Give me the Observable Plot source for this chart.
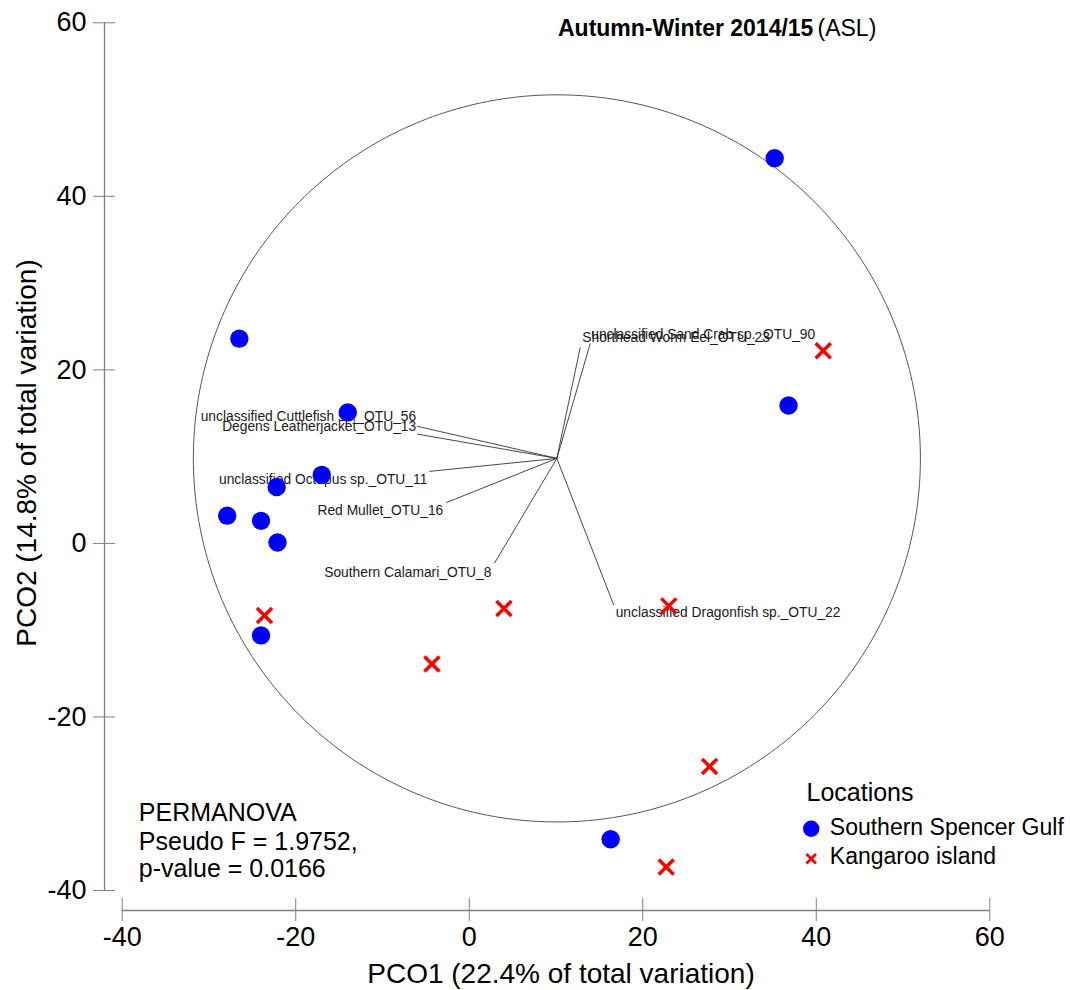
<!DOCTYPE html>
<html>
<head>
<meta charset="utf-8">
<script src="https://cdn.jsdelivr.net/npm/d3@7"></script>
<script src="https://cdn.jsdelivr.net/npm/@observablehq/plot@0.6"></script>
<style>
  html, body { margin: 0; padding: 0; background: #fff; }
  #chart { width: 1070px; height: 990px; }
</style>
</head>
<body>
<div id="chart"></div>
<script>
// ---- data ----
const locations = ["Southern Spencer Gulf", "Kangaroo island"];

// PCO scores per sample
const spencerPCO1 = [-26.5, -14.0, -17.0, -22.2, -27.9, -24.0, -22.1, -24.0, 35.2, 36.8, 16.3];
const spencerPCO2 = [23.6, 15.1, 7.9, 6.5, 3.2, 2.6, 0.1, -10.6, 44.4, 15.9, -34.1];
const kangarooPCO1 = [-23.6, 4.0, -4.3, 23.0, 40.8, 27.7, 22.7];
const kangarooPCO2 = [-8.3, -7.5, -13.9, -7.2, 22.2, -25.7, -37.3];

// OTU correlation vectors (tips), drawn from a common origin
const otuLabels = [
  "unclassified Cuttlefish sp._OTU_56",
  "Degens Leatherjacket_OTU_13",
  "unclassified Octopus sp._OTU_11",
  "Red Mullet_OTU_16",
  "Southern Calamari_OTU_8",
  "unclassified Sand Crab sp._OTU_90",
  "Shorthead Worm Eel_OTU_23",
  "unclassified Dragonfish sp._OTU_22"
];
const otuPCO1 = [-6.0, -6.0, -4.6, -2.65, 2.9, 13.95, 12.8, 16.65];
const otuPCO2 = [13.5, 12.6, 8.3, 4.7, -2.3, 23.05, 22.6, -7.1];
const vectorOrigin = [10.1, 9.8];
const circleRadius = 41.9;

const xTicks = [-40, -20, 0, 20, 40, 60];
const yTicks = [-40, -20, 0, 20, 40, 60];
const xTitle = "PCO1 (22.4% of total variation)";
const yTitle = "PCO2 (14.8% of total variation)";
const titleBold = "Autumn-Winter 2014/15";
const titleRest = "(ASL)";
const legendTitle = "Locations";
const statsLines = ["PERMANOVA", "Pseudo F = 1.9752,", "p-value = 0.0166"];

// ---- layout ----
const W = 1070, H = 990;
const ML = 121.7, MR = 80.7, MT = 22.3, MB = 100;
// place a free-standing mark at an absolute pixel position within the svg
const at = (px, py) => ({frameAnchor: "top-left", dx: px - ML, dy: py - MT});

// label placement for each vector tip
const labelPlace = [
  {anchor: "end", dx: -1, dy: -10},
  {anchor: "end", dx: -1, dy: -8},
  {anchor: "end", dx: -2, dy: 8},
  {anchor: "end", dx: -3, dy: 8},
  {anchor: "end", dx: -3, dy: 9},
  {anchor: "start", dx: 1, dy: -9},
  {anchor: "start", dx: 2, dy: -10},
  {anchor: "start", dx: 2, dy: 8}
];

const spencer = spencerPCO1.map((x, i) => ({x, y: spencerPCO2[i]}));
const kangaroo = kangarooPCO1.map((x, i) => ({x, y: kangarooPCO2[i]}));
const otus = otuLabels.map((name, i) => ({name, x: otuPCO1[i], y: otuPCO2[i]}));

// correlation circle outline
const circlePts = d3.range(0, 360, 1).map(a => {
  const t = a * Math.PI / 180;
  return {x: vectorOrigin[0] + circleRadius * Math.cos(t), y: vectorOrigin[1] + circleRadius * Math.sin(t)};
});

const FONT = "'Liberation Sans', Arial, Helvetica, sans-serif";
const axisGrey = "#808080";

const chart = Plot.plot({
  width: W,
  height: H,
  marginLeft: ML,
  marginRight: MR,
  marginTop: MT,
  marginBottom: MB,
  style: {fontFamily: FONT, background: "#fff", color: "#000"},
  x: {domain: [-40, 60]},
  y: {domain: [-40, 60]},
  marks: [
    // axis lines, offset from the data frame
    Plot.ruleX([-40], {y1: -40, y2: 60, dx: -17.7, stroke: axisGrey, strokeWidth: 1.3}),
    Plot.ruleY([-40], {x1: -40, x2: 60, dy: 20, stroke: axisGrey, strokeWidth: 1.3}),
    Plot.axisY({
      ticks: yTicks, tickSize: 22, tickPadding: 7, dx: -6.7,
      stroke: axisGrey, fill: "#000", fontSize: 27, label: null,
      tickFormat: d => String(d)
    }),
    Plot.axisX({
      ticks: xTicks, tickSize: 23, tickPadding: 5.5, dy: 8,
      stroke: axisGrey, fill: "#000", fontSize: 27, label: null,
      tickFormat: d => String(d)
    }),

    // correlation circle and OTU vectors
    Plot.line(circlePts, {x: "x", y: "y", curve: "linear-closed", stroke: "#555", strokeWidth: 1}),
    Plot.link(otus, {
      x1: () => vectorOrigin[0], y1: () => vectorOrigin[1],
      x2: "x", y2: "y", stroke: "#333", strokeWidth: 0.9
    }),
    ...otus.map((o, i) => Plot.text([o], {
      x: "x", y: "y", text: "name",
      textAnchor: labelPlace[i].anchor, dx: labelPlace[i].dx, dy: labelPlace[i].dy,
      fontSize: 13.8, fill: "#1a1a1a"
    })),

    // samples
    Plot.dot(spencer, {x: "x", y: "y", r: 9.2, fill: "#0000ff", stroke: null}),
    Plot.dot(kangaroo, {x: "x", y: "y", symbol: "times", r: 6.9, stroke: "#ff0000", strokeWidth: 3.5, fill: "none"}),

    // title
    Plot.text([titleBold], {text: d => d, ...at(557.5, 35.5), textAnchor: "start", lineAnchor: "bottom", fontSize: 23, fontWeight: "bold"}),
    Plot.text([titleRest], {text: d => d, ...at(817, 35.5), textAnchor: "start", lineAnchor: "bottom", fontSize: 23}),

    // axis titles
    Plot.text([xTitle], {text: d => d, ...at(560.5, 982.5), textAnchor: "middle", lineAnchor: "bottom", fontSize: 28}),
    Plot.text([yTitle], {text: d => d, ...at(35, 452.5), rotate: -90, textAnchor: "middle", lineAnchor: "bottom", fontSize: 28}),

    // PERMANOVA statistics
    Plot.text([statsLines[0]], {text: d => d, ...at(138.3, 820), textAnchor: "start", lineAnchor: "bottom", fontSize: 25}),
    Plot.text([statsLines[1]], {text: d => d, ...at(138.3, 849), textAnchor: "start", lineAnchor: "bottom", fontSize: 25}),
    Plot.text([statsLines[2]], {text: d => d, ...at(138.3, 876.5), textAnchor: "start", lineAnchor: "bottom", fontSize: 25}),

    // legend
    Plot.text([legendTitle], {text: d => d, ...at(806, 800), textAnchor: "start", lineAnchor: "bottom", fontSize: 25}),
    Plot.dot([locations[0]], {...at(810.7, 828.3), r: 8.2, fill: "#0000ff", stroke: null}),
    Plot.text([locations[0]], {text: d => d, ...at(829.3, 834), textAnchor: "start", lineAnchor: "bottom", fontSize: 23}),
    Plot.dot([locations[1]], {...at(810.7, 858.3), symbol: "times", r: 4.4, stroke: "#ff0000", strokeWidth: 2.8, fill: "none"}),
    Plot.text([locations[1]], {text: d => d, ...at(829.3, 863.3), textAnchor: "start", lineAnchor: "bottom", fontSize: 23})
  ]
});

document.getElementById("chart").appendChild(chart);
</script>
</body>
</html>
